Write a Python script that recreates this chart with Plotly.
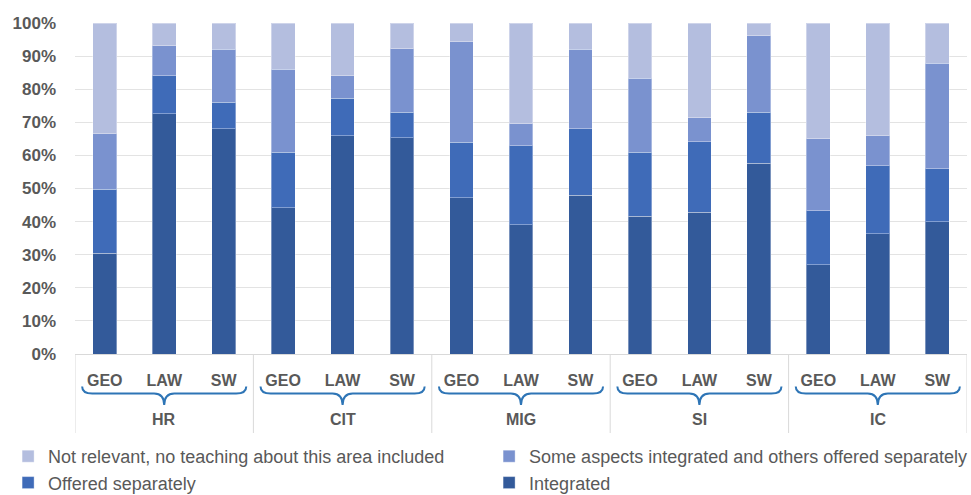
import plotly.graph_objects as go

groups = ["HR", "CIT", "MIG", "SI", "IC"]
subjects = ["GEO", "LAW", "SW"]

# segment shares (%), order: HR GEO, HR LAW, HR SW, CIT ..., IC SW
integrated = [30.5, 72.6, 68.1, 44.2, 65.9, 65.4, 47.2, 39.1, 47.9, 41.6, 42.9, 57.6, 27.0, 36.3, 40.0]
offered_separately = [19.3, 11.5, 7.9, 16.8, 11.3, 7.7, 16.7, 23.8, 20.2, 19.4, 21.2, 15.5, 16.3, 20.6, 15.9]
some_aspects = [16.7, 9.1, 16.0, 25.0, 6.9, 19.1, 30.5, 6.6, 23.9, 22.3, 7.3, 23.1, 21.7, 9.0, 31.9]
not_relevant = [33.5, 6.8, 8.0, 14.0, 15.9, 7.8, 5.6, 30.5, 8.0, 16.7, 28.6, 3.8, 35.0, 34.1, 12.2]

series = [
    ("Not relevant, no teaching about this area included", not_relevant, "#B4BEDF"),
    ("Some aspects integrated and others offered separately", some_aspects, "#7A92CF"),
    ("Offered separately", offered_separately, "#3F6BB8"),
    ("Integrated", integrated, "#335A9A"),
]

n = len(groups) * len(subjects)
xpos = list(range(n))
ticktext = [s for g in groups for s in subjects]

TXT = "#595959"
FONT = "Liberation Sans, Arial, sans-serif"

fig = go.Figure()
# stack order bottom->top: Integrated, Offered, Some, Not relevant
for rank, (name, vals, col) in reversed(list(enumerate(series))):
    fig.add_trace(go.Bar(
        x=xpos, y=vals, name=name, width=0.4,
        marker=dict(color=col, line=dict(color="rgba(255,255,255,0.35)", width=1)),
        legendrank=rank + 1,
    ))

top_px, bottom_px = 23, 354
plot_h = bottom_px - top_px
def py(pix):
    return (bottom_px - pix) / plot_h

shapes = []
ng = len(subjects)
for gi in range(len(groups) + 1):
    xb = gi * ng - 0.5
    shapes.append(dict(type="line", xref="x", yref="paper", x0=xb, x1=xb,
                       y0=0, y1=py(433), line=dict(color="#D9D9D9", width=1)))

inset = 0.12
r = 0.17
yTop, yMid, yTip = py(386.5), py(393.5), py(405)
for gi in range(len(groups)):
    x0 = gi * ng - 0.5 + inset
    x1 = gi * ng + ng - 0.5 - inset
    mid = gi * ng + (ng - 1) / 2
    path = (f"M {x0},{yTop} Q {x0},{yMid} {x0 + r},{yMid} "
            f"L {mid - r},{yMid} Q {mid},{yMid} {mid},{yTip} "
            f"Q {mid},{yMid} {mid + r},{yMid} "
            f"L {x1 - r},{yMid} Q {x1},{yMid} {x1},{yTop}")
    shapes.append(dict(type="path", xref="x", yref="paper", path=path,
                       line=dict(color="#2E75B6", width=2)))

annotations = []
for gi, g in enumerate(groups):
    annotations.append(dict(x=gi * ng + (ng - 1) / 2, y=py(420), xref="x", yref="paper",
                            text=g, showarrow=False, yanchor="middle",
                            font=dict(family=FONT, size=16, color=TXT, weight="bold")))

fig.update_layout(
    width=971, height=495,
    margin=dict(l=75, r=4, t=top_px, b=495 - bottom_px, autoexpand=False),
    paper_bgcolor="white", plot_bgcolor="white",
    barmode="stack",
    font=dict(family=FONT, color=TXT),
    xaxis=dict(range=[-0.5, n - 0.5], tickvals=xpos, ticktext=ticktext,
               showgrid=False, zeroline=False, showline=True, linecolor="#D9D9D9",
               ticks="", ticklabelstandoff=12,
               tickfont=dict(family=FONT, size=16, color=TXT, weight="bold")),
    yaxis=dict(range=[0, 100], dtick=10, ticksuffix="%", showgrid=True,
               gridcolor="#E3E3E3", gridwidth=1, zeroline=False,
               ticklabelstandoff=18,
               tickfont=dict(family=FONT, size=17, color=TXT, weight="bold")),
    legend=dict(orientation="h", x=-0.075, xanchor="left", y=py(438), yanchor="top",
                entrywidth=436, entrywidthmode="pixels", traceorder="normal",
                font=dict(family=FONT, size=18, color=TXT), itemwidth=30),
    shapes=shapes, annotations=annotations,
)

fig.write_html("out.html", config={"displayModeBar": False},
               post_script="document.body.style.margin='0px';")
